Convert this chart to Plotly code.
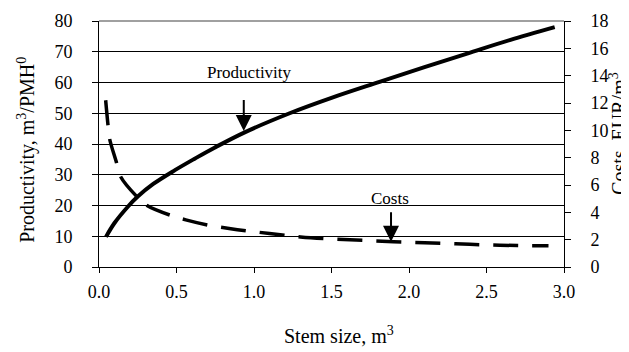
import plotly.graph_objects as go

# Productivity curve (m3/PMH0) vs stem size (m3)
prod_x = [0.045, 0.1, 0.186, 0.25, 0.35, 0.49, 0.62, 0.745, 0.94, 1.23, 1.5, 1.81, 2.1, 2.38, 2.65, 2.94]
prod_y = [9.8, 14.3, 19.6, 22.9, 27.0, 31.5, 35.3, 38.8, 43.8, 50.0, 55.0, 60.2, 65.0, 69.5, 73.8, 78.0]

# Costs curve (EUR/m3) vs stem size (m3)
cost_x = [0.043, 0.057, 0.068, 0.11, 0.14, 0.24, 0.31, 0.47, 0.56, 0.71, 0.85, 0.95, 1.1, 1.3,
          1.5, 1.7, 1.9, 2.1, 2.3, 2.5, 2.7, 2.9]
cost_y = [12.2, 10.5, 9.4, 7.75, 6.6, 5.2, 4.5, 3.75, 3.45, 3.05, 2.8, 2.65, 2.45, 2.2,
          2.05, 1.95, 1.85, 1.78, 1.7, 1.62, 1.57, 1.55]

x_ticks = [0.0, 0.5, 1.0, 1.5, 2.0, 2.5, 3.0]
x_tick_labels = ["0.0", "0.5", "1.0", "1.5", "2.0", "2.5", "3.0"]
y_ticks = [0, 10, 20, 30, 40, 50, 60, 70, 80]
y2_ticks = [0, 2, 4, 6, 8, 10, 12, 14, 16, 18]

FONT = "Liberation Serif, Times New Roman, serif"
TICKFONT = dict(family=FONT, size=18, color="black")
TITLEFONT = dict(family=FONT, size=20, color="black")

fig = go.Figure()
fig.add_trace(go.Scatter(x=prod_x, y=prod_y, mode="lines", line=dict(color="black", width=4, shape="spline"),
                         name="Productivity", yaxis="y"))
fig.add_trace(go.Scatter(x=cost_x, y=cost_y, mode="lines",
                         line=dict(color="black", width=3.5, dash="25px,14px", shape="spline"),
                         name="Costs", yaxis="y2"))

fig.update_layout(
    width=629, height=352,
    margin=dict(l=91, r=73, t=13, b=93, autoexpand=False),
    paper_bgcolor="white", plot_bgcolor="white",
    showlegend=False,
    font=dict(family=FONT, size=17, color="black"),
    xaxis=dict(range=[0, 3.0], tickvals=x_ticks, ticktext=x_tick_labels, tickfont=TICKFONT,
               showgrid=False, zeroline=False, showline=True, linecolor="black", linewidth=1,
               ticks="outside", ticklen=5, tickcolor="black", ticklabelstandoff=3),
    yaxis=dict(range=[0, 80], tickvals=y_ticks, tickfont=TICKFONT, showgrid=True, gridcolor="black", gridwidth=1,
               zeroline=False, showline=True, linecolor="black", linewidth=1,
               ticks="outside", ticklen=6, tickcolor="black", ticklabelstandoff=16),
    yaxis2=dict(range=[0, 18], tickvals=y2_ticks, tickfont=TICKFONT, overlaying="y", side="right", showgrid=False,
                zeroline=False, showline=True, linecolor="black", linewidth=1,
                ticks="outside", ticklen=6, tickcolor="black", ticklabelstandoff=16),
)

# gray plot-area border at top
fig.add_shape(type="line", xref="paper", yref="paper", x0=0, x1=1, y0=1, y1=1,
              line=dict(color="#808080", width=1.5), layer="above")

# axis titles
fig.add_annotation(x=-0.155, y=0.476, xref="paper", yref="paper", text="Productivity, m<sup>3</sup>/PMH<sup>0</sup>",
                   textangle=-90, showarrow=False, font=TITLEFONT, xanchor="center", yanchor="middle")
fig.add_annotation(x=1.116, y=0.545, xref="paper", yref="paper", text="Costs, EUR/m<sup>3</sup>",
                   textangle=-90, showarrow=False, font=TITLEFONT, xanchor="center", yanchor="middle")
fig.add_annotation(x=0.516, y=-0.278, xref="paper", yref="paper", text="Stem size, m<sup>3</sup>",
                   showarrow=False, font=TITLEFONT, xanchor="center", yanchor="middle")

# labels and arrows
fig.add_annotation(x=0.973, y=63.2, xref="x", yref="y", text="Productivity", showarrow=False,
                   font=dict(family=FONT, size=17))
fig.add_annotation(x=0.934, y=44.2, ax=0.934, ay=54.8, xref="x", yref="y", axref="x", ayref="y",
                   text="", showarrow=True, arrowhead=2, arrowsize=1.6, arrowwidth=2, arrowcolor="black")
fig.add_annotation(x=1.878, y=22.3, xref="x", yref="y", text="Costs", showarrow=False,
                   font=dict(family=FONT, size=17))
fig.add_annotation(x=1.884, y=8.2, ax=1.884, ay=18.3, xref="x", yref="y", axref="x", ayref="y",
                   text="", showarrow=True, arrowhead=2, arrowsize=1.6, arrowwidth=2, arrowcolor="black")

fig.write_html("out.html")
